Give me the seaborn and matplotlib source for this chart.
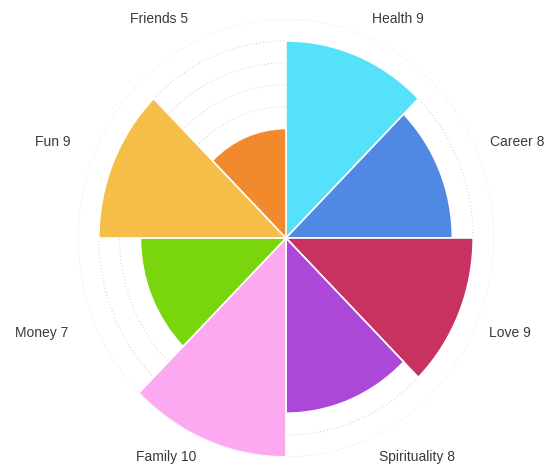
import numpy as np
import seaborn as sns
import matplotlib.pyplot as plt

# wheel of life scores, clockwise from the top
areas = ["Health", "Career", "Love", "Spirituality", "Family", "Money", "Fun", "Friends"]
scores = [9, 8, 9, 8, 10, 7, 9, 5]
colors = ["#56e1fb", "#5089e3", "#c73261", "#ab48d7", "#fca9f1", "#79d50c", "#f5be48", "#f08a2c"]

# label centres in pixels (from top-left)
label_px = [(398, 19), (517, 142), (510, 333), (417, 457),
            (166, 457), (42, 333), (53, 142), (159, 19)]

sns.set_style("white")
plt.rcParams["font.family"] = ["Liberation Sans", "DejaVu Sans"]

W, H = 549, 468
fig = plt.figure(figsize=(W / 100, H / 100), dpi=100)
ax = fig.add_axes([0.1421, 0.0235, 0.7577, 0.9359], projection="polar")
ax.set_aspect("auto")
ax.set_theta_zero_location("N")
ax.set_theta_direction(-1)

n = len(areas)
width = 2 * np.pi / n
theta = np.arange(n) * width + width / 2

# dotted rings behind the bars
ring_t = np.linspace(0, 2 * np.pi, 400)
for r in range(1, 11):
    ax.plot(ring_t, np.full_like(ring_t, r), ls=(0, (1, 2.5)), lw=0.7,
            color="#c9c9d9", zorder=0)

ax.bar(theta, scores, width=width, color=colors, edgecolor="white",
       linewidth=1.2, zorder=2)

for (name, s), (px, py) in zip(zip(areas, scores), label_px):
    fig.text(px / W, 1 - py / H, f"{name} {s}", ha="center", va="center",
             fontsize=10, color="#3a3a3a")

ax.set_ylim(0, 10)
ax.set_xticks([])
ax.set_yticks([])
ax.grid(False)
ax.spines["polar"].set_visible(False)

fig.savefig("out.png", dpi=100)
